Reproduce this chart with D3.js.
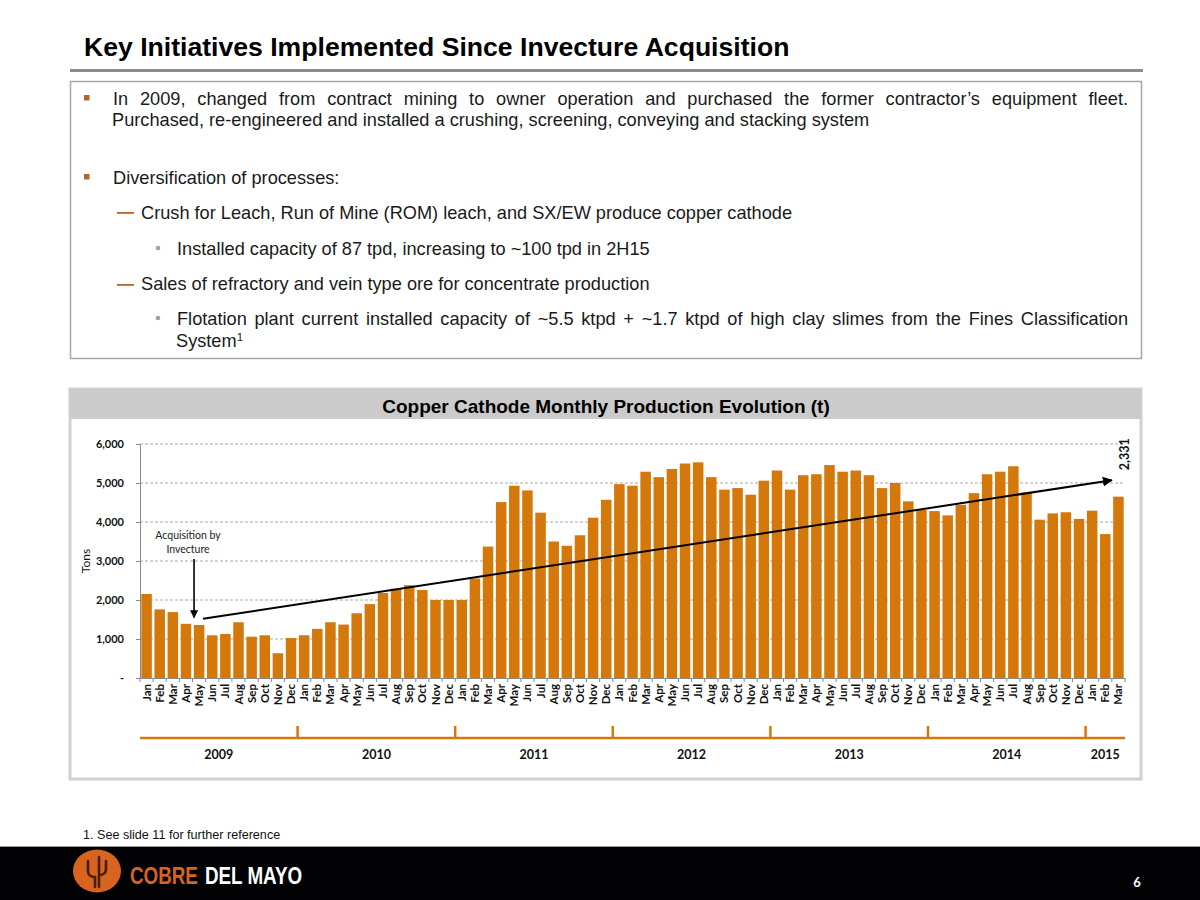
<!DOCTYPE html>
<html>
<head>
<meta charset="utf-8">
<script src="https://cdn.jsdelivr.net/npm/d3@7"></script>
<style>
  body { margin: 0; background: #fff; }
  svg { display: block; }
</style>
</head>
<body>
<div id="slide"></div>
<script>
// DATA
const monthNames = ["Jan", "Feb", "Mar", "Apr", "May", "Jun", "Jul", "Aug", "Sep", "Oct", "Nov", "Dec"];
const years = ["2009", "2010", "2011", "2012", "2013", "2014", "2015"];
const monthsPerYear = [12, 12, 12, 12, 12, 12, 3];
const production = [
    2155, 1760, 1690, 1390, 1360, 1095, 1130, 1430, 1060, 1095, 635, 1025,   // 2009
    1095, 1260, 1430, 1370, 1660, 1895, 2180, 2290, 2380, 2255, 2000, 2000,  // 2010
    2000, 2550, 3370, 4510, 4930, 4810, 4240, 3500, 3390, 3660, 4110, 4570,  // 2011
    4970, 4930, 5290, 5150, 5360, 5500, 5530, 5150, 4830, 4870, 4700, 5060,  // 2012
    5320, 4830, 5200, 5225, 5460, 5290, 5320, 5200, 4870, 5000, 4530, 4310,  // 2013
    4280, 4170, 4440, 4740, 5225, 5290, 5430, 4760, 4060, 4220, 4250, 4080,  // 2014
    4290, 3690, 4650                                                          // 2015
];
const yTicks = [0, 1000, 2000, 3000, 4000, 5000, 6000];
// trend arrow: month position (in month units from Jan 2009) and tons
const trendMonths = [4.8, 74.0];
const trendValues = [1520, 5070];
const trendLabel = "2,331";
const acquisitionMonth = 4;  // May 2009
const acquisitionLines = ["Acquisition by", "Invecture"];

// build month list from years
const months = [];
years.forEach((y, yi) => {
    for (let m = 0; m < monthsPerYear[yi]; m++) {
        months.push({ key: y + "-" + m, label: monthNames[m], year: y, value: production[months.length] });
    }
});

const ORANGE = "#D5780B";
const svg = d3.select("#slide").append("svg").attr("width", 1200).attr("height", 900);

// marker defs
const defs = svg.append("defs");
defs.append("marker").attr("id", "arrow")
    .attr("viewBox", "0 0 10 10").attr("refX", 9).attr("refY", 5)
    .attr("markerWidth", 5).attr("markerHeight", 5).attr("orient", "auto")
    .append("path").attr("d", "M0,0 L10,5 L0,10 z").attr("fill", "#000");

// ---- HEADER ----
svg.append("text")
    .attr("x", 84).attr("y", 56)
    .attr("font-family", "Liberation Sans, Arial, sans-serif")
    .attr("font-weight", "bold").attr("font-size", 26.6)
    .attr("fill", "#000")
    .text("Key Initiatives Implemented Since Invecture Acquisition");

svg.append("rect").attr("x", 70).attr("y", 69).attr("width", 1073).attr("height", 3).attr("fill", "#8c8c8c");

svg.append("rect").attr("x", 70.5).attr("y", 81.5).attr("width", 1071).attr("height", 277)
    .attr("fill", "#fff").attr("stroke", "#a6a6a6").attr("stroke-width", 1.5);

const body = svg.append("g")
    .attr("font-family", "Liberation Sans, Arial, sans-serif")
    .attr("font-size", 18.2).attr("fill", "#1a1a1a");

function justify(sel, width) {
    const natural = sel.node().getComputedTextLength();
    const gaps = sel.text().split(" ").length - 1;
    sel.attr("word-spacing", (width - natural) / gaps);
}

// square bullets
[98, 177].forEach(y => {
    svg.append("rect").attr("x", 84).attr("y", y - 3).attr("width", 5.5).attr("height", 5.5).attr("fill", "#B5652A");
});
const l1 = body.append("text").attr("x", 113).attr("y", 105)
    .text("In 2009, changed from contract mining to owner operation and purchased the former contractor\u2019s equipment fleet.");
justify(l1, 1015);
body.append("text").attr("x", 112).attr("y", 126)
    .text("Purchased, re-engineered and installed a crushing, screening, conveying and stacking system");
body.append("text").attr("x", 113).attr("y", 184).text("Diversification of processes:");

// dashes
[212, 284].forEach(y => {
    svg.append("rect").attr("x", 117).attr("y", y).attr("width", 17).attr("height", 1.8).attr("fill", "#B5652A");
});
body.append("text").attr("x", 141).attr("y", 219)
    .text("Crush for Leach, Run of Mine (ROM) leach, and SX/EW produce copper cathode");
body.append("text").attr("x", 141).attr("y", 290)
    .text("Sales of refractory and vein type ore for concentrate production");

// round bullets
[248, 318].forEach(y => {
    svg.append("circle").attr("cx", 158).attr("cy", y).attr("r", 2.3).attr("fill", "#a0a0a0");
});
body.append("text").attr("x", 177).attr("y", 255)
    .text("Installed capacity of 87 tpd, increasing to ~100 tpd in 2H15");
const l5 = body.append("text").attr("x", 177).attr("y", 325)
    .text("Flotation plant current installed capacity of ~5.5 ktpd + ~1.7 ktpd of high clay slimes from the Fines Classification");
justify(l5, 951);
const l6 = body.append("text").attr("x", 176).attr("y", 347).text("System");
l6.append("tspan").attr("dy", -6).attr("font-size", 11.5).text("1");

// ---- CHART PANEL ----
svg.append("rect").attr("x", 70).attr("y", 389).attr("width", 1071).attr("height", 390)
    .attr("fill", "#fff").attr("stroke", "#d0d0d0").attr("stroke-width", 3);
svg.append("rect").attr("x", 70).attr("y", 389).attr("width", 1071).attr("height", 30).attr("fill", "#cbcbcb");
svg.append("text").attr("x", 606).attr("y", 413).attr("text-anchor", "middle")
    .attr("font-family", "Liberation Sans, Arial, sans-serif").attr("font-weight", "bold").attr("font-size", 19)
    .text("Copper Cathode Monthly Production Evolution (t)");

const x0 = 140, x1 = 1125, yTop = 444, yBot = 678;
const xScale = d3.scaleBand().domain(months.map(d => d.key)).range([x0, x1]).paddingInner(0.2).paddingOuter(0.1);
const xPos = d3.scaleLinear().domain([0, months.length]).range([x0, x1]);
const yScale = d3.scaleLinear().domain([0, 6000]).range([yBot, yTop]);

const chart = svg.append("g").attr("font-family", "Lato, 'Open Sans', sans-serif");

// gridlines
chart.append("g").selectAll("line").data(yTicks.filter(d => d > 0)).join("line")
    .attr("x1", x0).attr("x2", x1)
    .attr("y1", d => yScale(d)).attr("y2", d => yScale(d))
    .attr("stroke", "#a8a8a8").attr("stroke-width", 1).attr("stroke-dasharray", "3,2");

// bars
chart.append("g").selectAll("rect").data(months).join("rect")
    .attr("x", d => xScale(d.key))
    .attr("width", xScale.bandwidth())
    .attr("y", d => yScale(d.value))
    .attr("height", d => yScale(0) - yScale(d.value))
    .attr("fill", ORANGE);

// y axis
const yAxis = chart.append("g").attr("transform", `translate(${x0},0)`)
    .call(d3.axisLeft(yScale).tickValues(yTicks).tickSize(4).tickPadding(12)
        .tickFormat(d => d === 0 ? "-" : d3.format(",")(d)));
yAxis.select(".domain").attr("stroke", "#8a8a8a");
yAxis.selectAll(".tick line").attr("stroke", "#8a8a8a");
yAxis.selectAll(".tick text").attr("font-family", "Lato, sans-serif").attr("font-weight", "bold")
    .attr("font-size", 11).attr("fill", "#111");

// x axis
const xAxis = chart.append("g").attr("transform", `translate(0,${yBot})`)
    .call(d3.axisBottom(xScale).tickSize(0).tickFormat(k => months.find(d => d.key === k).label));
xAxis.select(".domain").attr("stroke", "#8a8a8a");
xAxis.selectAll(".tick text")
    .attr("transform", "rotate(-90)")
    .attr("text-anchor", "end")
    .attr("x", -6).attr("y", 0).attr("dy", "0.35em")
    .attr("font-family", "Lato, sans-serif").attr("font-weight", "bold")
    .attr("font-size", 11.5).attr("fill", "#111");
chart.append("g").selectAll("line").data(d3.range(months.length + 1)).join("line")
    .attr("x1", d => xPos(d)).attr("x2", d => xPos(d))
    .attr("y1", yBot).attr("y2", yBot + 4)
    .attr("stroke", "#8a8a8a");

// axis title
chart.append("text").attr("transform", `translate(90,${(yTop + yBot) / 2}) rotate(-90)`)
    .attr("text-anchor", "middle").attr("font-size", 12).attr("fill", "#111").text("Tons");

// year band
const yearY = 738;
chart.append("line").attr("x1", x0).attr("x2", x1).attr("y1", yearY).attr("y2", yearY)
    .attr("stroke", ORANGE).attr("stroke-width", 2.5);
const yearStarts = monthsPerYear.map((c, i) => d3.sum(monthsPerYear.slice(0, i)));
chart.append("g").selectAll("line").data(yearStarts.slice(1)).join("line")
    .attr("x1", d => xPos(d)).attr("x2", d => xPos(d))
    .attr("y1", yearY - 12).attr("y2", yearY)
    .attr("stroke", ORANGE).attr("stroke-width", 2.5);
chart.append("g").selectAll("text").data(years).join("text")
    .attr("x", (d, i) => xPos(yearStarts[i] + monthsPerYear[i] / 2))
    .attr("y", 759).attr("text-anchor", "middle")
    .attr("font-weight", "bold").attr("font-size", 12.5).attr("fill", "#111")
    .text(d => d);

// trend arrow
chart.append("line")
    .attr("x1", xPos(trendMonths[0])).attr("y1", yScale(trendValues[0]))
    .attr("x2", xPos(trendMonths[1])).attr("y2", yScale(trendValues[1]))
    .attr("stroke", "#000").attr("stroke-width", 2).attr("marker-end", "url(#arrow)");
chart.append("text")
    .attr("transform", `translate(${xPos(trendMonths[1]) + 17},${yScale(trendValues[1]) - 10}) rotate(-90)`)
    .attr("font-weight", "bold").attr("font-size", 12.5).attr("fill", "#111")
    .text(trendLabel);

// acquisition annotation
const acqX = xPos(acquisitionMonth) + 1.5;
chart.append("g").selectAll("text").data(acquisitionLines).join("text")
    .attr("x", acqX - 6).attr("y", (d, i) => 539 + i * 14)
    .attr("text-anchor", "middle").attr("font-size", 10.5).attr("fill", "#222")
    .text(d => d);
chart.append("line")
    .attr("x1", acqX).attr("x2", acqX)
    .attr("y1", 559).attr("y2", yScale(months[acquisitionMonth].value + 190))
    .attr("stroke", "#000").attr("stroke-width", 1.6).attr("marker-end", "url(#arrow)");

// ---- FOOTER ----
svg.append("text").attr("x", 83).attr("y", 839)
    .attr("font-family", "Liberation Sans, Arial, sans-serif").attr("font-size", 12.6).attr("fill", "#111")
    .text("1.  See slide 11 for further reference");
svg.append("rect").attr("x", 0).attr("y", 846).attr("width", 1200).attr("height", 1).attr("fill", "#9a9a9a");
svg.append("rect").attr("x", 0).attr("y", 847).attr("width", 1200).attr("height", 53).attr("fill", "#020205");

const logo = svg.append("g").attr("transform", "translate(97,871)");
logo.append("ellipse").attr("rx", 24).attr("ry", 21.5).attr("fill", "#D9641F");
logo.append("path")
    .attr("d", "M-9,-10 L-9,0 Q-9,6 -2,6 L-2,16 M2,-14 L2,16 M9,-10 L9,-2 Q9,4 2,4")
    .attr("fill", "none").attr("stroke", "#4a1e08").attr("stroke-width", 2.6).attr("stroke-linecap", "round");

// condensed brand name (narrow font not installed, so squeeze horizontally)
const brandFont = "'Liberation Sans', Arial, sans-serif";
svg.append("text").attr("transform", "translate(130,884) scale(0.8,1)")
    .attr("font-family", brandFont).attr("font-weight", "bold").attr("font-size", 23.5)
    .attr("fill", "#D9641F").text("COBRE");
svg.append("text").attr("transform", "translate(205,884) scale(0.8,1)")
    .attr("font-family", brandFont).attr("font-weight", "bold").attr("font-size", 23.5)
    .attr("fill", "#fff").text("DEL MAYO");

svg.append("text").attr("x", 1137).attr("y", 887).attr("text-anchor", "middle")
    .attr("font-family", "Lato, sans-serif").attr("font-weight", "bold").attr("font-size", 13).attr("fill", "#fff")
    .text("6");
</script>
</body>
</html>
